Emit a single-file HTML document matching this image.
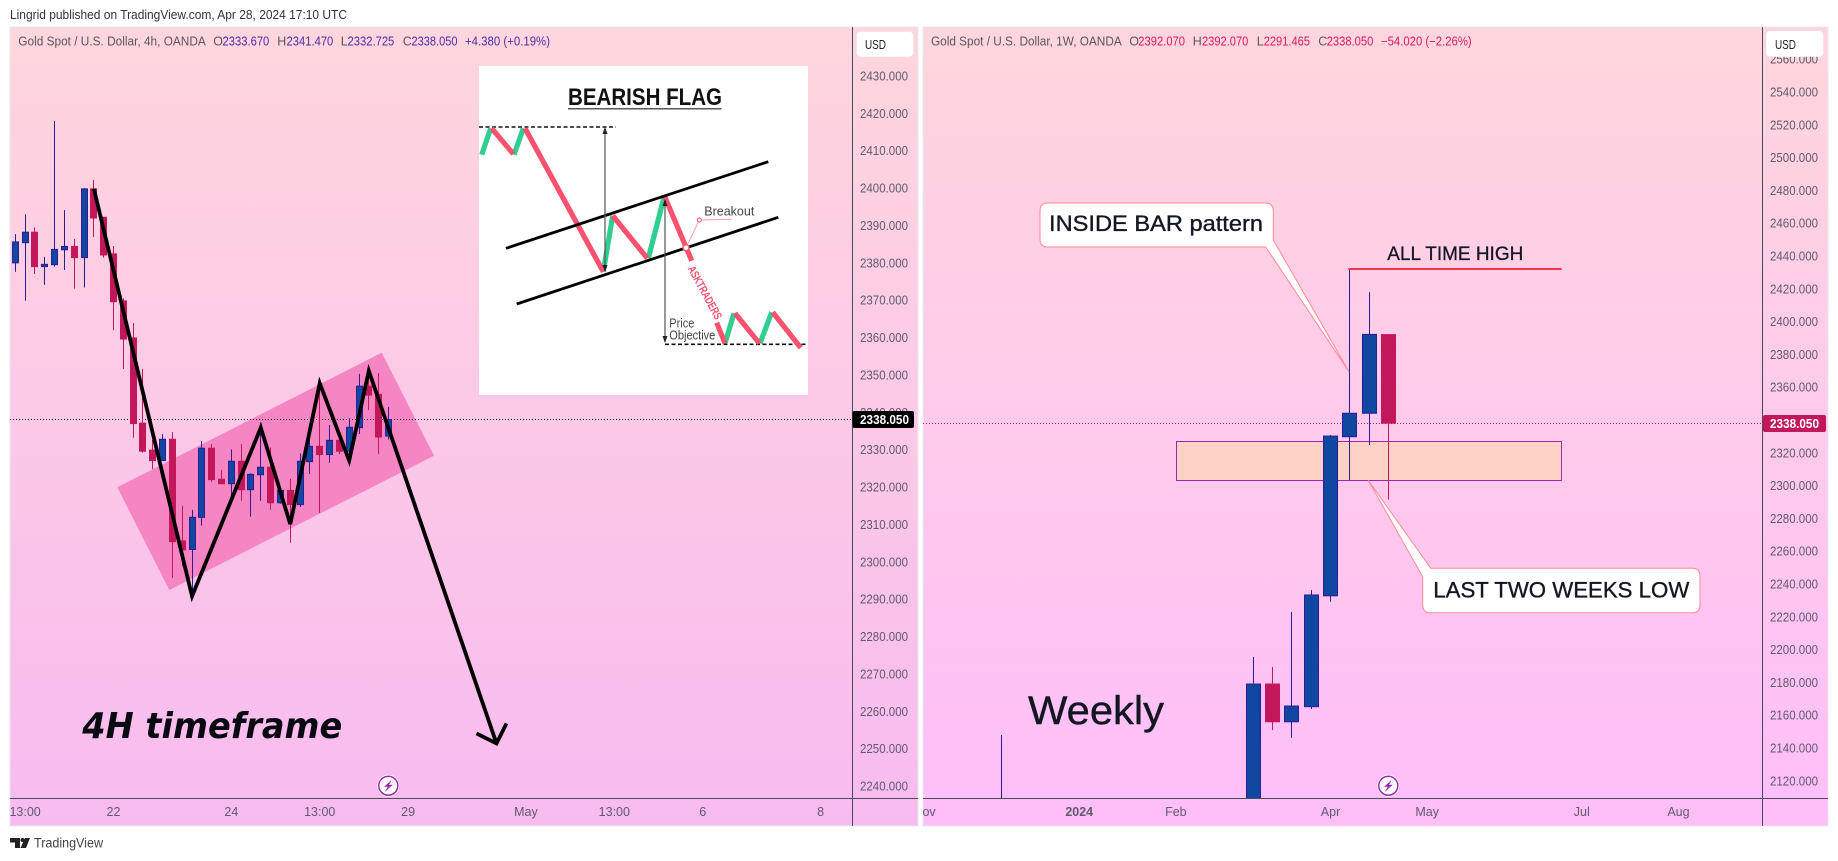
<!DOCTYPE html>
<html lang="en">
<head>
<meta charset="utf-8">
<title>Gold Spot / U.S. Dollar - Bearish Flag</title>
<style>
html,body{margin:0;padding:0;background:#fff;width:1838px;height:861px;overflow:hidden}
svg{display:block}
text{font-family:"Liberation Sans",Arial,sans-serif}
</style>
</head>
<body>
<svg id="root" xmlns="http://www.w3.org/2000/svg" width="1838" height="861" viewBox="0 0 1838 861">
<defs>
<linearGradient id="bgL" x1="0" y1="0" x2="0" y2="1"><stop offset="0" stop-color="#ffd6dd"/><stop offset="1" stop-color="#f8bbf0"/></linearGradient>
<linearGradient id="bgR" x1="0" y1="0" x2="0" y2="1"><stop offset="0" stop-color="#ffd6dd"/><stop offset="1" stop-color="#ffbef9"/></linearGradient>
<clipPath id="clipL"><rect x="10" y="27" width="842" height="771"/></clipPath>
<clipPath id="clipR"><rect x="923" y="27" width="839" height="771"/></clipPath>
<clipPath id="clipRT"><rect x="923" y="799" width="839" height="27"/></clipPath>
</defs>

<text x="10" y="19" font-size="12.5" fill="#333" textLength="337" lengthAdjust="spacingAndGlyphs">Lingrid published on TradingView.com, Apr 28, 2024 17:10 UTC</text>

<!-- LEFT PANEL -->
<g>
<rect x="10" y="27" width="908" height="799" fill="url(#bgL)" stroke="#e6e8f0" stroke-width="1"/>
<polygon points="117.3,487.3 381.7,352.7 434,455.7 169.3,590" fill="#f585c3"/>
<line x1="10" x2="852" y1="419.5" y2="419.5" stroke="#000" stroke-dasharray="1 2"/>
<g id="candlesL" clip-path="url(#clipL)"></g>
<g id="zigzagL"></g>

<g>
<rect x="479" y="66" width="329" height="329" fill="#fff"/>
<text x="568" y="105" font-size="24" font-weight="bold" fill="#111" textLength="154" lengthAdjust="spacingAndGlyphs">BEARISH FLAG</text>
<line x1="568" x2="721.5" y1="108.8" y2="108.8" stroke="#222" stroke-width="1.2"/>
<line x1="479" x2="616" y1="127" y2="127" stroke="#111" stroke-width="1.6" stroke-dasharray="4 2.5"/>
<line x1="665" x2="808" y1="344.3" y2="344.3" stroke="#111" stroke-width="1.6" stroke-dasharray="4 2.5"/>
<g stroke="#2fcf92" stroke-width="5.2" fill="none">
<line x1="481.7" y1="154.7" x2="490.7" y2="128.3"/><line x1="514" y1="154.7" x2="523.3" y2="128.3"/>
<line x1="603.3" y1="271.7" x2="612.7" y2="215.7"/><line x1="648.3" y1="258.3" x2="664" y2="197.3"/>
<line x1="725" y1="343.3" x2="734" y2="313.3"/><line x1="760" y1="343.3" x2="771.7" y2="312.3"/>
</g>
<g stroke="#f9516e" stroke-width="5.2" fill="none">
<line x1="491.7" y1="128.3" x2="513.3" y2="154"/><line x1="525" y1="128.3" x2="603.3" y2="271.7"/>
<line x1="612.7" y1="215.7" x2="647.3" y2="258.3"/><line x1="665" y1="197.3" x2="691.7" y2="260.7"/>
<line x1="716.7" y1="322.7" x2="725" y2="343.3"/><line x1="735" y1="313.3" x2="759.3" y2="343.3"/>
<line x1="772.7" y1="312.3" x2="800.7" y2="347.7"/>
</g>
<line x1="506" y1="248.3" x2="768.3" y2="161.7" stroke="#000" stroke-width="2.8"/>
<line x1="516.7" y1="304" x2="778.3" y2="217.3" stroke="#000" stroke-width="2.8"/>
<g stroke="#555" stroke-width="1.2">
<line x1="605" y1="130" x2="605" y2="270"/><line x1="665" y1="200" x2="665" y2="342"/>
</g>
<g fill="#222">
<polygon points="605,127 602.5,134 607.5,134"/><polygon points="605,272 602.5,265 607.5,265"/>
<polygon points="665,199 662.5,206 667.5,206"/><polygon points="665,343 662.5,336 667.5,336"/>
</g>
<polyline points="686,247.7 699.3,220 731.7,219.3" fill="none" stroke="#f8a0ad" stroke-width="1"/>
<circle cx="699.3" cy="220" r="2" fill="#fff" stroke="#f9516e"/>
<circle cx="686" cy="247.7" r="3" fill="#fff" stroke="#f9516e" stroke-width="1.4"/>
<text x="704.3" y="215.7" font-size="13" fill="#444" textLength="50" lengthAdjust="spacingAndGlyphs">Breakout</text>
<text x="669.3" y="327.3" font-size="12.5" fill="#444" textLength="25" lengthAdjust="spacingAndGlyphs">Price</text>
<text x="669.3" y="339.3" font-size="12.5" fill="#444" textLength="46" lengthAdjust="spacingAndGlyphs">Objective</text>
<text transform="translate(687.5,268.5) rotate(61.6)" font-size="11.5" font-weight="bold" fill="#f9516e" textLength="59" lengthAdjust="spacingAndGlyphs">ASKTRADERS</text>
</g>

<text x="82.3" y="738" font-size="36" font-weight="bold" font-style="italic" fill="#0a0a12" textLength="260" lengthAdjust="spacingAndGlyphs" style="font-family:'DejaVu Sans',sans-serif">4H timeframe</text>

<line x1="852.5" x2="852.5" y1="27" y2="826" stroke="#4a4a58"/>
<line x1="10" x2="918" y1="798.5" y2="798.5" stroke="#4a4a58"/>
<g id="yTicksL"></g>
<g id="xTicksL"></g>

<g font-size="12.5">
<text x="18.3" y="45.7" fill="#5a5560" textLength="187.5" lengthAdjust="spacingAndGlyphs">Gold Spot / U.S. Dollar, 4h, OANDA</text>
<text x="213.3" y="45.7" fill="#5a5560">O</text>
<text x="222.5" y="45.7" fill="#4a2ea8" textLength="46.8" lengthAdjust="spacingAndGlyphs">2333.670</text>
<text x="277.3" y="45.7" fill="#5a5560">H</text>
<text x="286.5" y="45.7" fill="#4a2ea8" textLength="46.8" lengthAdjust="spacingAndGlyphs">2341.470</text>
<text x="340.7" y="45.7" fill="#5a5560">L</text>
<text x="347.5" y="45.7" fill="#4a2ea8" textLength="46.8" lengthAdjust="spacingAndGlyphs">2332.725</text>
<text x="402.7" y="45.7" fill="#5a5560">C</text>
<text x="411.5" y="45.7" fill="#4a2ea8" textLength="46" lengthAdjust="spacingAndGlyphs">2338.050</text>
<text x="465" y="45.7" fill="#4a2ea8" textLength="85" lengthAdjust="spacingAndGlyphs">+4.380 (+0.19%)</text>
</g>

<rect x="852.5" y="411" width="61.5" height="17" rx="2" fill="#000"/>
<text x="860" y="424" font-size="12.5" font-weight="bold" fill="#fff" textLength="49" lengthAdjust="spacingAndGlyphs">2338.050</text>
<rect x="856.7" y="31.7" width="56.6" height="25" rx="4" fill="#fff"/>
<text x="865" y="49" font-size="12.5" fill="#222" textLength="21" lengthAdjust="spacingAndGlyphs">USD</text>
<g>
<circle cx="388.3" cy="785.7" r="11" fill="#fff"/>
<circle cx="388.3" cy="785.7" r="9.5" fill="none" stroke="#9c27b0" stroke-width="1.5"/>
<polygon points="392,779.5 384,786.7 387.8,786.7 384.8,792 392.8,784.7 389,784.7" fill="#9c27b0"/>
</g>
</g>

<!-- RIGHT PANEL -->
<g>
<rect x="923" y="27" width="905" height="799" fill="url(#bgR)" stroke="#e6e8f0" stroke-width="1"/>
<rect x="1176.5" y="441.5" width="385" height="39" fill="#fdd2c4" stroke="#9c27b0" stroke-width="1"/>
<line x1="923" x2="1762" y1="423.5" y2="423.5" stroke="#c2185b" stroke-dasharray="1 2"/>
<g id="candlesR" clip-path="url(#clipR)"></g>
<line x1="1348.3" x2="1561.7" y1="269" y2="269" stroke="#f23645" stroke-width="2"/>
<text x="1387.3" y="260" font-size="19.5" fill="#131722" stroke="#131722" stroke-width="0.3" textLength="136" lengthAdjust="spacingAndGlyphs">ALL TIME HIGH</text>
<path d="M1048,203 H1265.3 Q1273.3,203 1273.3,211 V240 L1349,371.7 L1265.7,247 H1048 Q1040,247 1040,239 V211 Q1040,203 1048,203 Z" fill="#fff" stroke="#ff8a95" stroke-width="1"/>
<text x="1049" y="231" font-size="22" fill="#131722" stroke="#131722" stroke-width="0.35" textLength="214" lengthAdjust="spacingAndGlyphs">INSIDE BAR pattern</text>
<path d="M1430.7,568.3 H1692 Q1700,568.3 1700,576.3 V604.7 Q1700,612.7 1692,612.7 H1430.7 Q1422.7,612.7 1422.7,604.7 V576.7 L1368.3,480.3 Z" fill="#fff" stroke="#ff8a95" stroke-width="1"/>
<text x="1433.3" y="597.3" font-size="22" fill="#131722" stroke="#131722" stroke-width="0.35" textLength="256" lengthAdjust="spacingAndGlyphs">LAST TWO WEEKS LOW</text>
<text x="1028" y="724" font-size="40" fill="#131722" stroke="#131722" stroke-width="0.4" textLength="136" lengthAdjust="spacingAndGlyphs">Weekly</text>

<line x1="1762.5" x2="1762.5" y1="27" y2="826" stroke="#4a4a58"/>
<line x1="923" x2="1828" y1="798.5" y2="798.5" stroke="#4a4a58"/>
<g id="yTicksR"></g>
<g id="xTicksR" clip-path="url(#clipRT)"></g>

<g font-size="12.5">
<text x="931" y="45.7" fill="#5a5560" textLength="190.7" lengthAdjust="spacingAndGlyphs">Gold Spot / U.S. Dollar, 1W, OANDA</text>
<text x="1129.3" y="45.7" fill="#5a5560">O</text>
<text x="1138.3" y="45.7" fill="#d81b60" textLength="46.7" lengthAdjust="spacingAndGlyphs">2392.070</text>
<text x="1192.7" y="45.7" fill="#5a5560">H</text>
<text x="1202" y="45.7" fill="#d81b60" textLength="46.3" lengthAdjust="spacingAndGlyphs">2392.070</text>
<text x="1256.7" y="45.7" fill="#5a5560">L</text>
<text x="1263.7" y="45.7" fill="#d81b60" textLength="46.3" lengthAdjust="spacingAndGlyphs">2291.465</text>
<text x="1318.3" y="45.7" fill="#5a5560">C</text>
<text x="1326.7" y="45.7" fill="#d81b60" textLength="46.6" lengthAdjust="spacingAndGlyphs">2338.050</text>
<text x="1381" y="45.7" fill="#d81b60" textLength="90.7" lengthAdjust="spacingAndGlyphs">−54.020 (−2.26%)</text>
</g>

<rect x="1763" y="415" width="63" height="17" rx="2" fill="#c2185b"/>
<text x="1770" y="428" font-size="12.5" font-weight="bold" fill="#fff" textLength="49" lengthAdjust="spacingAndGlyphs">2338.050</text>
<rect x="1766" y="31" width="57.3" height="25.7" rx="4" fill="#fff"/>
<text x="1775" y="49" font-size="12.5" fill="#222" textLength="21" lengthAdjust="spacingAndGlyphs">USD</text>
<g>
<circle cx="1388.3" cy="785.7" r="11" fill="#fff"/>
<circle cx="1388.3" cy="785.7" r="9.5" fill="none" stroke="#9c27b0" stroke-width="1.5"/>
<polygon points="1392,779.5 1384,786.7 1387.8,786.7 1384.8,792 1392.8,784.7 1389,784.7" fill="#9c27b0"/>
</g>
</g>

<!-- FOOTER -->
<g>
<path d="M10,838 H20 V848 H15 V842.5 H10 Z" fill="#222"/>
<circle cx="22.5" cy="840" r="2" fill="#222"/>
<polygon points="25,838 30,838 26,848 20.5,848" fill="#222"/>
<text x="34" y="847.7" font-size="13.5" fill="#444" textLength="69" lengthAdjust="spacingAndGlyphs">TradingView</text>
</g>
</svg>

<script>
const NS = 'http://www.w3.org/2000/svg';

// ---- 4h chart data ----
const open4h  = [2380.0,2385.4,2388.2,2379.0,2379.5,2383.5,2384.4,2381.4,2399.8,2392.2,2382.4,2369.8,2359.9,2337.1,2329.9,2327.1,2332.8,2305.6,2303.3,2311.9,2330.4,2322.1,2320.9,2326.9,2319.3,2323.3,2325.3,2315.8,2319.1,2315.3,2326.8,2330.9,2328.7,2332.5,2329.6,2335.9,2347.0,2344.8,2333.67];
const high4h  = [2387.7,2393.0,2389.5,2381.6,2418.0,2394.1,2386.4,2400.0,2402.2,2392.2,2384.5,2370.5,2363.9,2351.6,2332.6,2334.2,2334.7,2315.0,2313.9,2332.3,2331.5,2324.6,2330.1,2331.5,2323.7,2337.3,2330.6,2319.2,2322.2,2329.0,2334.8,2347.8,2336.6,2332.5,2338.4,2350.3,2352.6,2350.5,2341.47];
const low4h   = [2377.6,2369.9,2377.0,2374.1,2379.0,2378.1,2373.1,2373.4,2386.9,2381.4,2362.0,2351.6,2333.2,2329.2,2324.8,2327.1,2295.7,2298.9,2290.7,2309.7,2321.4,2320.9,2317.4,2316.3,2312.1,2316.3,2313.9,2315.5,2305.1,2314.7,2323.5,2313.1,2326.5,2328.8,2327.2,2334.2,2340.6,2328.8,2332.725];
const close4h = [2385.6,2388.2,2379.0,2379.6,2383.6,2384.4,2381.4,2399.8,2392.0,2382.1,2369.6,2359.6,2337.0,2329.6,2327.1,2332.8,2305.4,2303.2,2311.9,2330.4,2322.0,2320.9,2326.9,2319.3,2323.4,2325.3,2315.8,2319.1,2315.3,2326.9,2330.9,2328.7,2332.5,2329.6,2336.0,2347.0,2344.6,2333.4,2338.05];
const yTicks4h = [2430,2420,2410,2400,2390,2380,2370,2360,2350,2340,2330,2320,2310,2300,2290,2280,2270,2260,2250,2240];
const xTickLabels4h = ['13:00','22','24','13:00','29','May','13:00','6','8'];
const xTickBars4h = [1,10,22,31,40,52,61,70,82];
const zigzagBars = [8,18,25,28,31,34,36,49];
const zigzagPrices = [2399.8,2290.8,2335.9,2310.1,2347.8,2327.1,2351.1,2251.4];

// ---- weekly chart data ----
const barsW  = [-20,-7,-6,-5,-4,-3,-2,-1,0];
const openW  = [2060,2080,2179.0,2156.0,2165.2,2232.8,2329.8,2344.1,2392.07];
const highW  = [2147.9,2195.5,2189.4,2222.9,2236.3,2330.8,2432.1,2418.0,2392.07];
const lowW   = [2050,2060,2150.9,2146.2,2163.8,2229.2,2303.4,2324.7,2291.465];
const closeW = [2085,2179.0,2156.0,2165.6,2233.3,2330.2,2344.1,2392.2,2338.05];
const yTicksW = [2560,2540,2520,2500,2480,2460,2440,2420,2400,2380,2360,2320,2300,2280,2260,2240,2220,2200,2180,2160,2140,2120];
const xTickLabelsW = ['Nov','2024','Feb','Apr','May','Jul','Aug'];
const xTickBarsW = [-24,-16,-11,-3,2,10,15];

// ---- axis functions ----
const xL = i => 15.3 + 9.82 * i;
const yL = p => 76 + (2430 - p) * 3.737;
const xR = i => 1388.5 + 19.33 * i;
const yR = p => 92 + (2540 - p) * 1.64;

const UP_FILL = '#0f47a1', UP_LINE = '#311b92', DOWN = '#c2185b';

function drawCandles(host, n, bar, o, h, l, c, xf, yf, w) {
  for (let k = 0; k < n; k++) {
    const cx = Math.floor(xf(bar(k))) + 0.5;
    const up = c[k] >= o[k];
    const g = document.createElementNS(NS, 'g');
    
    
    const wick = document.createElementNS(NS, 'line');
    
    
    wick.setAttribute('x1', cx);
    wick.setAttribute('x2', cx);
    wick.setAttribute('y1', yf(h[k]));
    wick.setAttribute('y2', yf(l[k]));
    wick.setAttribute('stroke', up ? UP_LINE : DOWN);
    wick.setAttribute('stroke-width', '1');
    g.appendChild(wick);
    const body = document.createElementNS(NS, 'rect');
    
    
    const top = yf(Math.max(o[k], c[k]));
    const bot = yf(Math.min(o[k], c[k]));
    body.setAttribute('x', cx - w / 2);
    body.setAttribute('y', top);
    body.setAttribute('width', w);
    body.setAttribute('height', Math.max(1, bot - top));
    body.setAttribute('fill', up ? UP_FILL : DOWN);
    body.setAttribute('stroke', up ? UP_LINE : DOWN);
    body.setAttribute('stroke-width', '1');
    g.appendChild(body);
    host.appendChild(g);
  }
}
drawCandles(document.getElementById('candlesL'), open4h.length, k => k, open4h, high4h, low4h, close4h, xL, yL, 6);
drawCandles(document.getElementById('candlesR'), barsW.length, k => barsW[k], openW, highW, lowW, closeW, xR, yR, 14);

// zigzag drawing with arrow head
const zigHost = document.getElementById('zigzagL');
const zigPts = zigzagBars.map((b, k) => xL(b) + ',' + yL(zigzagPrices[k])).join(' ');
const zig = document.createElementNS(NS, 'polyline');


zig.setAttribute('points', zigPts);
zig.setAttribute('fill', 'none');
zig.setAttribute('stroke', '#000');
zig.setAttribute('stroke-width', '3.8');
zig.setAttribute('stroke-linejoin', 'miter');
zigHost.appendChild(zig);
const tipX = xL(zigzagBars[zigzagBars.length - 1]);
const tipY = yL(zigzagPrices[zigzagPrices.length - 1]);
const head = document.createElementNS(NS, 'polyline');


head.setAttribute('points', (tipX - 20) + ',' + (tipY - 10) + ' ' + tipX + ',' + tipY + ' ' + (tipX + 10) + ',' + (tipY - 20));
head.setAttribute('fill', 'none');
head.setAttribute('stroke', '#000');
head.setAttribute('stroke-width', '3.8');
zigHost.appendChild(head);

// y axis tick labels
function drawYTicks(host, ticks, yf, x) {
  ticks.forEach(v => {
    const t = document.createElementNS(NS, 'text');
    
    
    t.setAttribute('x', x);
    t.setAttribute('y', yf(v) + 4.5);
    t.setAttribute('font-size', '12.5');
    t.setAttribute('fill', '#5f5a6c');
    t.setAttribute('textLength', '48');
    t.setAttribute('lengthAdjust', 'spacingAndGlyphs');
    t.textContent = v.toFixed(3);
    host.appendChild(t);
  });
}
drawYTicks(document.getElementById('yTicksL'), yTicks4h, yL, 860);
drawYTicks(document.getElementById('yTicksR'), yTicksW, yR, 1770);

// x axis tick labels
function drawXTicks(host, labels, bars, xf) {
  labels.forEach((s, k) => {
    const t = document.createElementNS(NS, 'text');
    
    
    t.setAttribute('x', xf(bars[k]));
    t.setAttribute('y', 816);
    t.setAttribute('font-size', '12.5');
    t.setAttribute('text-anchor', 'middle');
    t.setAttribute('fill', '#5f5a6c');
    if (s === '2024') t.setAttribute('font-weight', 'bold');
    t.textContent = s;
    host.appendChild(t);
  });
}
drawXTicks(document.getElementById('xTicksL'), xTickLabels4h, xTickBars4h, xL);
drawXTicks(document.getElementById('xTicksR'), xTickLabelsW, xTickBarsW, xR);
</script>
</body>
</html>
